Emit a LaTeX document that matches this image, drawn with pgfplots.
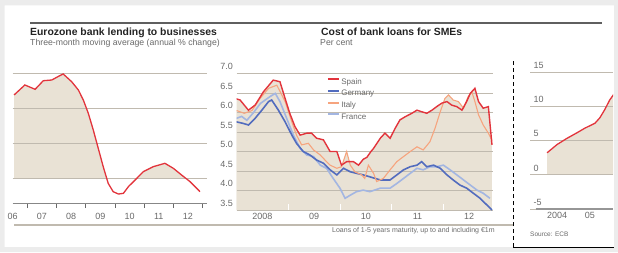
\documentclass[border=0pt]{standalone}
\usepackage{fontspec}
\setmainfont{Liberation Sans}
\usepackage{pgfplots}
\pgfplotsset{compat=1.18}
\definecolor{ftred}{RGB}{226,52,60}
\definecolor{ftbeige}{RGB}{233,226,213}
\definecolor{deblue}{RGB}{82,108,190}
\definecolor{frblue}{RGB}{163,182,226}
\definecolor{itorange}{RGB}{246,164,126}
\definecolor{gridc}{RGB}{192,186,175}
\definecolor{txt}{RGB}{105,105,105}
\definecolor{ttl}{RGB}{35,35,35}
\definecolor{rulec}{RGB}{95,95,95}
\definecolor{frame}{RGB}{236,236,236}

\pgfplotsset{ftbase/.style={
  scale only axis, set layers, clip mode=individual,
  axis line style={draw=none},
  major tick length=0pt,
  ymajorgrids, grid style={gridc, line width=0.6pt},
  ticklabel style={font=\fontsize{9}{10}\selectfont, text=txt},
  /pgf/number format/assume math mode=true,
  xtick pos=bottom, ytick pos=left,
}}

\begin{document}
\begin{tikzpicture}[x=1pt,y=1pt]
\fill[frame, even odd rule] (0,0) rectangle (618,252) (4.5,5) rectangle (614,246.5);

% titles
\draw[rulec, line width=2pt] (30,229) -- (602,229);
\node[anchor=base west, inner sep=0pt, text=ttl, font=\fontsize{10.4}{12}\selectfont\bfseries] at (30,216) {Eurozone bank lending to businesses};
\node[anchor=base west, inner sep=0pt, text=txt, font=\fontsize{8.7}{10}\selectfont] at (30,206) {Three-month moving average (annual \% change)};
\node[anchor=base west, inner sep=0pt, text=ttl, font=\fontsize{10.4}{12}\selectfont\bfseries] at (321,216) {Cost of bank loans for SMEs};
\node[anchor=base west, inner sep=0pt, text=txt, font=\fontsize{8.7}{10}\selectfont] at (320,206) {Per cent};

% ---------------- left panel ----------------
\begin{axis}[ftbase, at={(12.6pt,49pt)}, anchor=south west,
  width=194.4pt, height=137pt,
  xmin=2006.5, xmax=2013.15, ymin=-3.57, ymax=16,
  tick align=outside,
  xtick={2006.5,2007.5,2008.5,2009.5,2010.5,2011.5,2012.5},
  xticklabels={06,07,08,09,10,11,12},
  minor xtick={2007,2008,2009,2010,2011,2012,2013},
  minor tick length=5pt,
  minor x tick style={txt, line width=0.6pt},
  xticklabel style={yshift=-7pt},
  ytick={0,5,10,15}, yticklabels={},
]
\addplot[fill=ftbeige, draw=none, on layer=axis background, forget plot] coordinates {
(2006.55,11.86) (2006.92,13.29) (2007.27,12.67) (2007.55,13.9) (2007.84,14.0)
(2008.06,14.5) (2008.23,14.86) (2008.52,13.76) (2008.75,12.57) (2008.92,11.14)
(2009.09,9.24) (2009.26,6.86) (2009.43,4.24) (2009.6,1.62) (2009.72,0)
} \closedcycle;
\addplot[fill=ftbeige, draw=none, on layer=axis background, forget plot] coordinates {
(2010.76,0) (2010.97,0.9) (2011.31,1.62) (2011.71,2.1) (2012.0,1.38) (2012.28,0.43) (2012.41,0)
} \closedcycle;
\draw[txt!80, line width=0.8pt] (axis cs:2006.5,-3.57) -- (axis cs:2013.15,-3.57);
\addplot[ftred, line width=1.3pt, forget plot] coordinates {
(2006.55,11.86) (2006.92,13.29) (2007.27,12.67) (2007.55,13.9) (2007.84,14.0)
(2008.06,14.5) (2008.23,14.86) (2008.52,13.76) (2008.75,12.57) (2008.92,11.14)
(2009.09,9.24) (2009.26,6.86) (2009.43,4.24) (2009.6,1.62) (2009.77,-0.76)
(2009.94,-1.95) (2010.12,-2.29) (2010.29,-2.19) (2010.46,-1.24) (2010.69,-0.29)
(2010.97,0.9) (2011.31,1.62) (2011.71,2.1) (2012.0,1.38) (2012.28,0.43)
(2012.57,-0.52) (2012.91,-1.95)
};
\end{axis}

% ---------------- middle panel ----------------
\begin{axis}[ftbase, at={(236.5pt,42pt)}, anchor=south west,
  width=256pt, height=140.4pt,
  xmin=2008, xmax=2012.95, ymin=3.5, ymax=7.1,
  tick align=inside,
  xtick={2008.5,2009.5,2010.5,2011.5,2012.5},
  xticklabels={2008,09,10,11,12},
  minor xtick={2009,2010,2011,2012},
  minor tick length=6pt,
  minor x tick style={white, line width=0.8pt},
  ytick={3.5,4,4.5,5,5.5,6,6.5,7},
  yticklabel style={anchor=south east, /pgf/number format/fixed, /pgf/number format/fixed zerofill, /pgf/number format/precision=1},
  legend style={at={(0.352,0.95)}, anchor=north west, draw=none, fill=none,
    font=\fontsize{8}{9}\selectfont, text=txt, row sep=1.5pt, inner sep=0pt,
    nodes={inner sep=1.5pt}},
  legend cell align=left,
  legend image code/.code={\draw[#1, line width=2pt] (0pt,2.8pt) -- (11pt,2.8pt);},
]
% fills under the upper envelope (Spain and Italy)
\addplot[fill=ftbeige, draw=none, on layer=axis background, forget plot] coordinates {
(2008.00,6.35) (2008.07,6.32) (2008.23,6.06) (2008.36,6.19) (2008.52,6.53) (2008.71,6.83)
(2008.84,6.79) (2008.94,6.36) (2009.03,5.98) (2009.13,5.64) (2009.23,5.42) (2009.36,5.47)
(2009.45,5.47) (2009.55,5.34) (2009.68,5.30) (2009.81,5.00) (2009.94,5.00) (2010.03,4.65)
(2010.13,4.74) (2010.26,4.74) (2010.36,4.65) (2010.45,4.80) (2010.52,4.85) (2010.60,5.00)
(2010.65,5.08) (2010.78,5.34) (2010.87,5.47) (2010.97,5.34) (2011.07,5.60) (2011.16,5.81)
(2011.26,5.89) (2011.39,5.98) (2011.49,6.06) (2011.58,6.02) (2011.68,5.98) (2011.78,6.06)
(2011.87,6.15) (2011.97,6.24) (2012.07,6.28) (2012.16,6.19) (2012.26,6.15) (2012.36,6.06)
(2012.45,6.28) (2012.52,6.49) (2012.61,6.62) (2012.68,6.28) (2012.77,6.11) (2012.87,6.15)
(2012.94,5.17)
} \closedcycle;
\addplot[fill=ftbeige, draw=none, on layer=axis background, forget plot] coordinates {
(2008.00,6.05) (2008.15,5.98) (2008.30,6.05) (2008.45,6.35) (2008.62,6.62) (2008.78,6.70)
(2008.94,6.28) (2009.07,5.76) (2009.16,5.42) (2009.26,5.17) (2009.39,5.21) (2009.49,5.04)
(2009.62,4.91) (2009.74,4.74) (2009.81,4.65) (2009.94,4.57) (2010.03,4.61) (2010.13,5.00)
(2010.20,4.65) (2010.29,4.48) (2010.42,4.40) (2010.48,4.31) (2010.55,4.65) (2010.65,4.44)
(2010.71,4.23) (2010.84,4.31) (2010.97,4.53) (2011.10,4.74) (2011.23,4.87) (2011.36,5.00)
(2011.49,5.12) (2011.61,5.04) (2011.74,5.25) (2011.84,5.60) (2011.94,6.02) (2012.03,6.36)
(2012.10,6.45) (2012.19,6.32) (2012.29,6.28) (2012.39,6.11) (2012.48,6.41) (2012.55,6.53)
(2012.61,6.28) (2012.68,5.94) (2012.77,5.68) (2012.87,5.47) (2012.94,5.29)
} \closedcycle;
% France
\addplot[frblue, line width=1.6pt, forget plot] coordinates {
(2008.00,5.85) (2008.10,5.90) (2008.20,5.80) (2008.33,6.00) (2008.46,6.23) (2008.65,6.41)
(2008.75,6.49) (2008.84,6.28) (2008.97,5.85) (2009.10,5.42) (2009.23,5.08) (2009.36,4.91)
(2009.49,4.87) (2009.62,4.65) (2009.74,4.57) (2009.87,4.31) (2010.00,4.06) (2010.10,3.80)
(2010.20,3.88) (2010.32,3.97) (2010.45,4.01) (2010.58,3.97) (2010.78,4.06) (2010.97,4.06)
(2011.10,4.18) (2011.23,4.31) (2011.36,4.44) (2011.49,4.57) (2011.61,4.53) (2011.74,4.61)
(2011.87,4.61) (2012.00,4.65) (2012.13,4.53) (2012.26,4.40) (2012.39,4.27) (2012.52,4.14)
(2012.65,4.01) (2012.77,3.93) (2012.90,3.80)
};
% Germany
\addplot[deblue, line width=1.6pt, forget plot] coordinates {
(2008.00,5.76) (2008.13,5.72) (2008.23,5.68) (2008.36,5.85) (2008.49,6.06) (2008.62,6.28)
(2008.68,6.32) (2008.81,6.06) (2008.94,5.76) (2009.07,5.42) (2009.16,5.21) (2009.29,5.00)
(2009.42,4.91) (2009.55,4.78) (2009.68,4.70) (2009.81,4.53) (2009.94,4.40) (2010.07,4.57)
(2010.20,4.48) (2010.32,4.44) (2010.45,4.40) (2010.58,4.35) (2010.78,4.27) (2010.97,4.27)
(2011.10,4.40) (2011.23,4.53) (2011.36,4.61) (2011.49,4.65) (2011.58,4.74) (2011.68,4.61)
(2011.81,4.65) (2011.94,4.57) (2012.07,4.40) (2012.19,4.27) (2012.32,4.14) (2012.45,4.06)
(2012.58,3.93) (2012.71,3.80) (2012.84,3.63) (2012.94,3.50)
};
% Italy
\addplot[itorange, line width=1.1pt, forget plot] coordinates {
(2008.00,6.05) (2008.15,5.98) (2008.30,6.05) (2008.45,6.35) (2008.62,6.62) (2008.78,6.70)
(2008.94,6.28) (2009.07,5.76) (2009.16,5.42) (2009.26,5.17) (2009.39,5.21) (2009.49,5.04)
(2009.62,4.91) (2009.74,4.74) (2009.81,4.65) (2009.94,4.57) (2010.03,4.61) (2010.13,5.00)
(2010.20,4.65) (2010.29,4.48) (2010.42,4.40) (2010.48,4.31) (2010.55,4.65) (2010.65,4.44)
(2010.71,4.23) (2010.84,4.31) (2010.97,4.53) (2011.10,4.74) (2011.23,4.87) (2011.36,5.00)
(2011.49,5.12) (2011.61,5.04) (2011.74,5.25) (2011.84,5.60) (2011.94,6.02) (2012.03,6.36)
(2012.10,6.45) (2012.19,6.32) (2012.29,6.28) (2012.39,6.11) (2012.48,6.41) (2012.55,6.53)
(2012.61,6.28) (2012.68,5.94) (2012.77,5.68) (2012.87,5.47) (2012.94,5.29)
};
% Spain
\addplot[ftred, line width=1.4pt, forget plot] coordinates {
(2008.00,6.35) (2008.07,6.32) (2008.23,6.06) (2008.36,6.19) (2008.52,6.53) (2008.71,6.83)
(2008.84,6.79) (2008.94,6.36) (2009.03,5.98) (2009.13,5.64) (2009.23,5.42) (2009.36,5.47)
(2009.45,5.47) (2009.55,5.34) (2009.68,5.30) (2009.81,5.00) (2009.94,5.00) (2010.03,4.65)
(2010.13,4.74) (2010.26,4.74) (2010.36,4.65) (2010.45,4.80) (2010.52,4.85) (2010.60,5.00)
(2010.65,5.08) (2010.78,5.34) (2010.87,5.47) (2010.97,5.34) (2011.07,5.60) (2011.16,5.81)
(2011.26,5.89) (2011.39,5.98) (2011.49,6.06) (2011.58,6.02) (2011.68,5.98) (2011.78,6.06)
(2011.87,6.15) (2011.97,6.24) (2012.07,6.28) (2012.16,6.19) (2012.26,6.15) (2012.36,6.06)
(2012.45,6.28) (2012.52,6.49) (2012.61,6.62) (2012.68,6.28) (2012.77,6.11) (2012.87,6.15)
(2012.94,5.17)
};
\addlegendimage{ftred}
\addlegendentry{Spain}
\addlegendimage{deblue}
\addlegendentry{Germany}
\addlegendimage{itorange}
\addlegendentry{Italy}
\addlegendimage{frblue}
\addlegendentry{France}
\end{axis}

% ---------------- right panel ----------------
\begin{axis}[ftbase, at={(530pt,43pt)}, anchor=south west,
  width=83pt, height=144pt,
  xmin=2003.68, xmax=2006.2, ymin=-5, ymax=16,
  tick align=outside,
  xtick={2004.5,2005.5}, xticklabels={2004,05},
  ytick={-5,0,5,10,15},
  yticklabel style={anchor=south west},
]
\addplot[fill=ftbeige, draw=none, on layer=axis background, forget plot] coordinates {
(2004.2,3.2) (2004.5,4.4) (2004.8,5.3) (2005.1,6.1) (2005.35,6.8) (2005.65,7.5)
(2005.8,8.3) (2005.95,9.5) (2006.1,10.9) (2006.25,11.9)
} \closedcycle;
\draw[txt!70, line width=1.5pt] (axis cs:2003.85,-5) -- (axis cs:2006.2,-5);
\addplot[ftred, line width=1.3pt, forget plot] coordinates {
(2004.2,3.2) (2004.5,4.4) (2004.8,5.3) (2005.1,6.1) (2005.35,6.8) (2005.65,7.5)
(2005.8,8.3) (2005.95,9.5) (2006.1,10.9) (2006.25,11.9)
};
\end{axis}

% separators and notes
\draw[gridc, line width=1.2pt] (14,27) -- (513,27);
\draw[black, line width=1pt, dash pattern=on 4pt off 3pt] (513,5) -- (513,192);
\draw[black, line width=1.5pt] (513,4.5) -- (614,4.5);
\node[anchor=base west, inner sep=0pt, text=txt, font=\fontsize{7}{8}\selectfont] at (332,20) {Loans of 1-5 years maturity, up to and including €1m};
\node[anchor=base west, inner sep=0pt, text=txt, font=\fontsize{6.5}{7}\selectfont] at (530,16) {Source: ECB};
\end{tikzpicture}
\end{document}
